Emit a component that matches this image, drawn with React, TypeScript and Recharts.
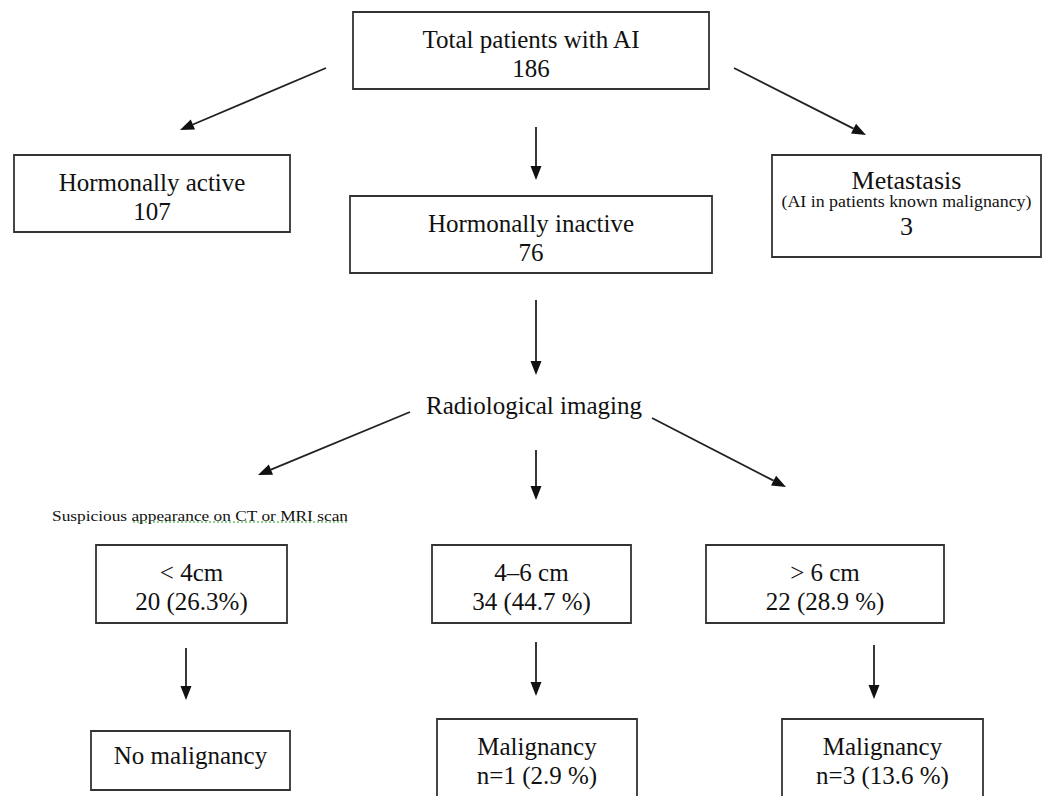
import React from "react";
import { ScatterChart, XAxis, YAxis, ReferenceArea, ReferenceLine, Scatter } from "recharts";

const W = 1048;
const H = 796;
const FONT = "'Liberation Serif', 'Times New Roman', serif";
const INK = "#111";

// flowchart content
const nodeIds = ["total", "active", "inactive", "metastasis", "lt4", "mid", "gt6", "noMal", "mal1", "mal3"];
const nodeTitles = [
  "Total patients with AI",
  "Hormonally active",
  "Hormonally inactive",
  "Metastasis",
  "< 4cm",
  "4–6 cm",
  "> 6 cm",
  "No malignancy",
  "Malignancy",
  "Malignancy",
];
const nodeCounts = ["186", "107", "76", "3", "20 (26.3%)", "34 (44.7 %)", "22 (28.9 %)", "", "n=1 (2.9 %)", "n=3 (13.6 %)"];
const metastasisNote = "(AI in patients known malignancy)";
const imagingLabel = "Radiological imaging";
const suspiciousLabel = "Suspicious appearance on CT or MRI scan";

// layout in chart units (x: 0..1048, y: 0..796 top-down)
const boxes: Record<string, [number, number, number, number]> = {
  total: [353, 12, 709, 89],
  active: [14, 155, 290, 232],
  inactive: [350, 196, 712, 273],
  metastasis: [772, 155, 1041, 257],
  lt4: [96, 545, 287, 623],
  mid: [432, 545, 631, 623],
  gt6: [706, 545, 944, 623],
  noMal: [91, 731, 290, 790],
  mal1: [437, 719, 637, 800],
  mal3: [782, 719, 983, 800],
};

const arrows: [number, number, number, number][] = [
  [326, 68, 180, 130],
  [536, 127, 536, 180],
  [734, 68, 866, 135],
  [536, 300, 536, 375],
  [410, 412, 258, 475],
  [536, 450, 536, 500],
  [652, 418, 786, 487],
  [186, 648, 186, 700],
  [536, 642, 536, 696],
  [874, 645, 874, 699],
];

type Line = { text: string; size: number; dy: number; len?: number };

const nodeText = nodeIds.map((id, i) => {
  const [x1, y1, x2] = boxes[id];
  const lines: Line[] = [];
  if (id === "metastasis") {
    lines.push({ text: nodeTitles[i], size: 26, dy: 25 });
    lines.push({ text: metastasisNote, size: 16, dy: 46, len: 250 });
    lines.push({ text: nodeCounts[i], size: 26, dy: 71 });
  } else if (!nodeCounts[i]) {
    lines.push({ text: nodeTitles[i], size: 25, dy: 24 });
  } else {
    lines.push({ text: nodeTitles[i], size: 25, dy: 27 });
    lines.push({ text: nodeCounts[i], size: 25, dy: 56 });
  }
  return { x: (x1 + x2) / 2, y: y1, lines };
});

const freeText = [
  { x: 534, y: 392, lines: [{ text: imagingLabel, size: 25, dy: 13 }] },
  { x: 200, y: 508, lines: [{ text: suspiciousLabel, size: 15, dy: 8, len: 296 }] },
];

const TextShape = (props: any) => {
  const { cx, cy, payload } = props;
  return (
    <g>
      {payload.lines.map((l: Line, k: number) => (
        <text
          key={k}
          x={cx}
          y={cy + l.dy}
          textAnchor="middle"
          dominantBaseline="central"
          fontFamily={FONT}
          fontSize={l.size}
          fill={INK}
          textLength={l.len}
          lengthAdjust={l.len ? "spacingAndGlyphs" : undefined}
        >
          {l.text}
        </text>
      ))}
    </g>
  );
};

const ArrowShape = (p: any) => {
  const { x1, y1, x2, y2 } = p;
  const ang = Math.atan2(y2 - y1, x2 - x1);
  const L = 14;
  const hw = 5.5;
  const bx = x2 - L * Math.cos(ang);
  const by = y2 - L * Math.sin(ang);
  const px = -Math.sin(ang) * hw;
  const py = Math.cos(ang) * hw;
  return (
    <g>
      <line x1={x1} y1={y1} x2={bx} y2={by} stroke="#222" strokeWidth={1.8} />
      <polygon points={`${x2},${y2} ${bx + px},${by + py} ${bx - px},${by - py}`} fill="#111" />
    </g>
  );
};

export default function App() {
  return (
    <div style={{ position: "absolute", left: 0, top: 0, width: W, height: H, background: "#fff" }}>
      <ScatterChart width={W} height={H} margin={{ top: 0, right: 0, bottom: 0, left: 0 }}>
        <XAxis type="number" dataKey="x" domain={[0, W]} hide />
        <YAxis type="number" dataKey="y" domain={[0, H]} reversed hide />
        {nodeIds.map((id) => {
          const [x1, y1, x2, y2] = boxes[id];
          return (
            <ReferenceArea
              key={id}
              x1={x1}
              x2={x2}
              y1={y1}
              y2={y2}
              ifOverflow="visible"
              fill="#fff"
              fillOpacity={1}
              stroke="#333"
              strokeWidth={1.8}
            />
          );
        })}
        {arrows.map(([x1, y1, x2, y2], i) => (
          <ReferenceLine
            key={i}
            segment={[
              { x: x1, y: y1 },
              { x: x2, y: y2 },
            ]}
            ifOverflow="visible"
            shape={ArrowShape}
          />
        ))}
        <ReferenceLine
          segment={[
            { x: 133, y: 522 },
            { x: 348, y: 522 },
          ]}
          ifOverflow="visible"
          stroke="#6fbf6f"
          strokeWidth={1.4}
          strokeDasharray="2 2"
        />
        <Scatter data={nodeText} shape={TextShape} isAnimationActive={false} />
        <Scatter data={freeText} shape={TextShape} isAnimationActive={false} />
      </ScatterChart>
    </div>
  );
}
